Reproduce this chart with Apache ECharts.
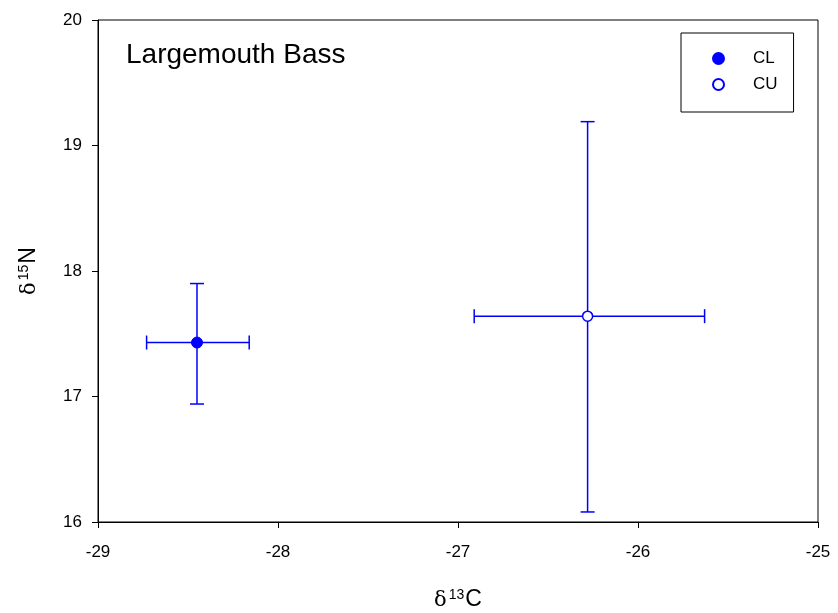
<!DOCTYPE html>
<html>
<head>
<meta charset="utf-8">
<script src="https://cdn.jsdelivr.net/npm/echarts@6/dist/echarts.min.js"></script>
<style>
  html, body { margin: 0; padding: 0; background: #fff; }
  #chart { width: 838px; height: 613px; }
</style>
</head>
<body>
<div id="chart"></div>
<script>
// sites and their mean / error-bar extents
var sites = ['CL', 'CU']
var c13Mean = [-28.45, -26.28]
var c13Low = [-28.73, -26.91]
var c13High = [-28.16, -25.63]
var n15Mean = [17.43, 17.64]
var n15Low = [16.94, 16.08]
var n15High = [17.90, 19.19]
var xTicks = [-29, -28, -27, -26, -25]
var yTicks = [16, 17, 18, 19, 20]

var blue = '#0000ff'
var font = 'Liberation Sans, Arial, sans-serif'

var chart = echarts.init(document.getElementById('chart'))

function errorBars(i) {
  return {
    type: 'custom',
    name: sites[i] + ' err',
    silent: true,
    z: 1,
    data: [[c13Mean[i], n15Mean[i], c13Low[i], c13High[i], n15Low[i], n15High[i]]],
    renderItem: function(params, api) {
      var c = api.coord([api.value(0), api.value(1)])
      var l = api.coord([api.value(2), api.value(1)])
      var r = api.coord([api.value(3), api.value(1)])
      var b = api.coord([api.value(0), api.value(4)])
      var t = api.coord([api.value(0), api.value(5)])
      var cap = 7
      var style = { stroke: blue, lineWidth: 1.5 }
      var lines = [
        [l[0], c[1], r[0], c[1]],
        [l[0], c[1] - cap, l[0], c[1] + cap],
        [r[0], c[1] - cap, r[0], c[1] + cap],
        [c[0], t[1], c[0], b[1]],
        [c[0] - cap, t[1], c[0] + cap, t[1]],
        [c[0] - cap, b[1], c[0] + cap, b[1]]
      ]
      return {
        type: 'group',
        children: lines.map(function(p) {
          return { type: 'line', shape: { x1: p[0], y1: p[1], x2: p[2], y2: p[3] }, style: style }
        })
      }
    }
  }
}

// rich text for the δ-notation axis names
var nameRich = {
  d: { fontFamily: 'DejaVu Serif, serif', fontSize: 21, color: '#000', verticalAlign: 'bottom' },
  s: { fontFamily: font, fontSize: 14, color: '#000', verticalAlign: 'top', padding: [0, 1, 9, 2] },
  n: { fontFamily: font, fontSize: 23, color: '#000', verticalAlign: 'bottom' }
}

var option = {
  backgroundColor: '#fff',
  animation: false,
  grid: {
    left: 98,
    right: 20,
    top: 20,
    bottom: 91,
    outerBoundsMode: 'none',
    containLabel: false,
    show: true,
    borderColor: '#000',
    borderWidth: 1
  },
  title: {
    text: 'Largemouth Bass',
    left: 121,
    top: 36,
    textStyle: { fontFamily: font, fontSize: 28, fontWeight: 'normal', color: '#000' }
  },
  legend: {
    orient: 'vertical',
    left: 681,
    top: 33,
    data: sites,
    itemWidth: 11,
    itemHeight: 11,
    itemGap: 9,
    padding: [17, 16, 19, 31],
    borderColor: '#000',
    borderWidth: 1,
    selectedMode: false,
    textStyle: { fontFamily: font, fontSize: 17, color: '#000', padding: [0, 0, 0, 24] }
  },
  xAxis: {
    type: 'value',
    min: -29,
    max: -25,
    interval: 1,
    name: '{d|δ}{s|13}{n|C}',
    nameLocation: 'middle',
    nameGap: 66,
    nameTextStyle: { rich: nameRich },
    axisLine: { show: true, onZero: false, lineStyle: { color: '#000', width: 1 } },
    axisTick: { show: true, inside: false, length: 6, lineStyle: { color: '#000' } },
    axisLabel: {
      fontFamily: font, fontSize: 17, color: '#000', margin: 22,
      formatter: function(v) { return xTicks.indexOf(v) >= 0 ? String(v) : '' }
    },
    splitLine: { show: false }
  },
  yAxis: {
    type: 'value',
    min: 16,
    max: 20,
    interval: 1,
    name: '{d|δ}{s|15}{n|N}',
    nameLocation: 'middle',
    nameGap: 58,
    nameRotate: 90,
    nameTextStyle: { rich: nameRich },
    axisLine: { show: true, onZero: false, lineStyle: { color: '#000', width: 1 } },
    axisTick: { show: true, inside: false, length: 6, lineStyle: { color: '#000' } },
    axisLabel: {
      fontFamily: font, fontSize: 17, color: '#000', margin: 16,
      formatter: function(v) { return yTicks.indexOf(v) >= 0 ? String(v) : '' }
    },
    splitLine: { show: false }
  },
  series: [
    errorBars(0),
    errorBars(1),
    {
      name: 'CL',
      type: 'scatter',
      z: 3,
      symbol: 'circle',
      symbolSize: 11,
      itemStyle: { color: blue, borderColor: blue, borderWidth: 1, opacity: 1 },
      data: [[c13Mean[0], n15Mean[0]]]
    },
    {
      name: 'CU',
      type: 'scatter',
      z: 3,
      symbol: 'circle',
      symbolSize: 10,
      itemStyle: { color: '#fff', borderColor: blue, borderWidth: 1.5, opacity: 1 },
      data: [[c13Mean[1], n15Mean[1]]]
    }
  ]
}

chart.setOption(option)
</script>
</body>
</html>
